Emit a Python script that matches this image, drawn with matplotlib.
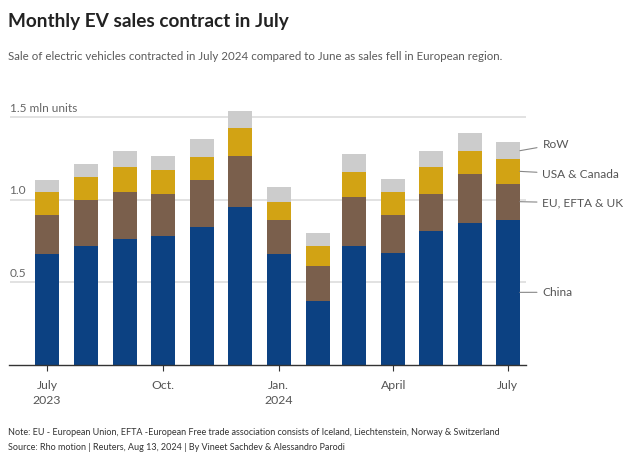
import matplotlib
matplotlib.use("Agg")
import matplotlib.pyplot as plt
import matplotlib.dates as mdates
import numpy as np
import datetime as dt

plt.rcParams['font.family'] = ['Lato', 'DejaVu Sans']

months = ["2023-07", "2023-08", "2023-09", "2023-10", "2023-11", "2023-12",
          "2024-01", "2024-02", "2024-03", "2024-04", "2024-05", "2024-06", "2024-07"]
china = [0.671, 0.722, 0.760, 0.780, 0.837, 0.958, 0.671, 0.389, 0.722, 0.680, 0.811, 0.861, 0.879]
eu = [0.234, 0.278, 0.288, 0.256, 0.282, 0.308, 0.208, 0.210, 0.296, 0.225, 0.225, 0.296, 0.218]
usa = [0.143, 0.139, 0.150, 0.142, 0.139, 0.170, 0.109, 0.123, 0.150, 0.143, 0.162, 0.140, 0.149]
row = [0.071, 0.077, 0.099, 0.088, 0.107, 0.101, 0.089, 0.077, 0.109, 0.077, 0.097, 0.109, 0.101]
series_names = ["China", "EU, EFTA & UK", "USA & Canada", "RoW"]
colors = ["#0c4182", "#7a5f4c", "#d2a314", "#cccccc"]
tick_months = ["2023-07", "2023-10", "2024-01", "2024-04", "2024-07"]
tick_labels = ["July\n2023", "Oct.", "Jan.\n2024", "April", "July"]
ytick_vals = [0.5, 1.0, 1.5]
ytick_labels = ["0.5", "1.0", "1.5 mln units"]

def todate(s):
    y, m = s.split("-")
    return dt.date(int(y), int(m), 1)

x = mdates.date2num([todate(m) for m in months])

W, H = 639, 465
fig = plt.figure(figsize=(W/100, H/100), dpi=100)
ax_left, ax_right = 9.5/W, 526/W
ax_bottom = 1 - 365/H
ax_top = 1 - 108.8/H
ax = fig.add_axes([ax_left, ax_bottom, ax_right - ax_left, ax_top - ax_bottom])

data = [china, eu, usa, row]
bottom = np.zeros(len(x))
for vals, c, name in zip(data, colors, series_names):
    ax.bar(x, vals, bottom=bottom, width=19, color=c, edgecolor='none', zorder=3, label=name)
    bottom = bottom + np.array(vals)

ax.set_ylim(0, 1.55)
ax.set_xlim(x[0] - 29.7, x[-1] + 14.4)

for v, lab in zip(ytick_vals, ytick_labels):
    ax.axhline(v, color='#dddddd', lw=1.2, zorder=1)
    ax.text(0.0, v + 0.02, lab, transform=ax.get_yaxis_transform(), ha='left', va='bottom',
            fontsize=8.6, color='#666666')

ax.set_yticks([])
for s in ['top', 'right', 'left']:
    ax.spines[s].set_visible(False)
ax.spines['bottom'].set_color('#333333')
ax.spines['bottom'].set_linewidth(1.0)
ax.spines['bottom'].set_zorder(4)

ax.set_xticks(mdates.date2num([todate(m) for m in tick_months]))
ax.set_xticklabels(tick_labels, fontsize=8.8, color='#555555', linespacing=1.4)
ax.tick_params(axis='x', length=4, color='#333333', pad=7)

# direct labels
last = len(x) - 1
cum = np.cumsum([[d[last]] for d in data], axis=0).ravel()
lows = np.concatenate([[0], cum[:-1]])
mids = (cum + lows) / 2
label_y = [0.44, 0.98, 1.152, 1.335]
xr = x[last] + 9.5
for name, my, ly in zip(series_names, mids, label_y):
    ax.annotate(name, xy=(xr, my), xytext=(xr + 18, ly), textcoords='data',
                fontsize=8.6, color='#555555', va='center', ha='left',
                arrowprops=dict(arrowstyle='-', color='#888888', lw=0.8,
                                shrinkA=2, shrinkB=0),
                annotation_clip=False)

fig.text(8/W, 1 - 22/H, "Monthly EV sales contract in July", fontsize=13.7, fontweight='bold',
         color='#222222', va='center', ha='left')
fig.text(8/W, 1 - 57/H, "Sale of electric vehicles contracted in July 2024 compared to June as sales fell in European region.",
         fontsize=8.3, color='#5a5a5a', va='center', ha='left')
fig.text(8/W, 1 - 432/H, "Note: EU - European Union, EFTA -European Free trade association consists of Iceland, Liechtenstein, Norway & Switzerland",
         fontsize=6.5, color='#333333', va='center', ha='left')
fig.text(8/W, 1 - 447/H, "Source: Rho motion | Reuters, Aug 13, 2024 | By Vineet Sachdev & Alessandro Parodi",
         fontsize=6.5, color='#333333', va='center', ha='left')

fig.savefig("out.png", dpi=100, facecolor='white')
